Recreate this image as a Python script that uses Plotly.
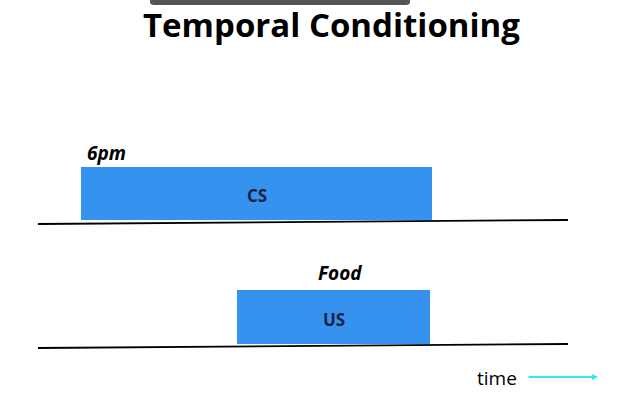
import plotly.graph_objects as go

# stimulus bars (pixel-like time units)
labels = ["CS", "US"]
starts = [81, 237]
ends = [432, 430]
tops = [167, 290]
bottoms = [220, 344]
captions = ["6pm", "Food"]

# baselines
line_x = [38, 568]
line1_y = [224, 220]
line2_y = [348, 344]

fig = go.Figure()
for lab, s, e, t, b in zip(labels, starts, ends, tops, bottoms):
    fig.add_trace(go.Bar(orientation="h", base=[s], x=[e - s], y=[(t + b) / 2],
                         width=[b - t], marker=dict(color="#3592ef", line=dict(width=0)),
                         showlegend=False, hoverinfo="skip"))
    fig.add_annotation(x=(s + e) / 2, y=(t + b) / 2 + 2, text="<b>" + lab + "</b>",
                       showarrow=False, font=dict(size=17, color="#1a2140", family="Open Sans"))
for ly in [line1_y, line2_y]:
    fig.add_trace(go.Scatter(x=line_x, y=ly, mode="lines", line=dict(color="black", width=1.8),
                             showlegend=False, hoverinfo="skip"))

fig.add_annotation(x=106, y=153, text="<b><i>" + captions[0] + "</i></b>", showarrow=False,
                   font=dict(size=19, color="black", family="Open Sans"))
fig.add_annotation(x=340, y=273, text="<b><i>" + captions[1] + "</i></b>", showarrow=False,
                   font=dict(size=19, color="black", family="Open Sans"))
fig.add_annotation(x=331, y=24, text="<b>Temporal Conditioning</b>", showarrow=False,
                   font=dict(size=33, color="black", family="Open Sans"))
fig.add_annotation(x=497, y=378, text="time", showarrow=False,
                   font=dict(size=19, color="black", family="Open Sans"))
fig.add_annotation(x=598, y=377, ax=527, ay=377, axref="x", ayref="y", text="",
                   showarrow=True, arrowhead=2, arrowsize=0.6, arrowwidth=2, arrowcolor="#33e6f2")
fig.add_shape(type="path", path="M 150,0 L 410,0 L 410,2 Q 410,5 406,5 L 154,5 Q 150,5 150,2 Z",
              fillcolor="#555555", line_width=0, layer="above")

fig.update_layout(width=623, height=410, margin=dict(l=0, r=0, t=0, b=0),
                  plot_bgcolor="white", paper_bgcolor="white", bargap=0,
                  xaxis=dict(range=[0, 623], visible=False),
                  yaxis=dict(range=[410, 0], visible=False))
fig.write_html("out.html", config={"displayModeBar": False},
               post_script="document.body.style.margin='0';")
